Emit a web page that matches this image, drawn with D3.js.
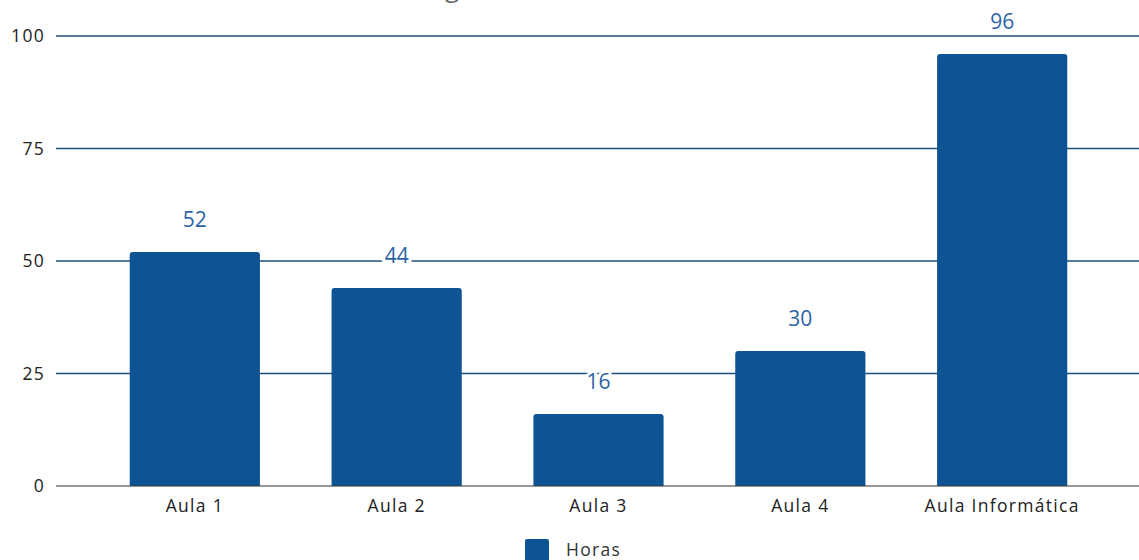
<!DOCTYPE html>
<html><head><meta charset="utf-8">
<script src="https://cdn.jsdelivr.net/npm/d3@7"></script>
<style>body{margin:0;background:#fff;overflow:hidden}</style>
</head><body><svg id="c" width="1139" height="560"></svg>
<script>
const categories = ["Aula 1", "Aula 2", "Aula 3", "Aula 4", "Aula Informática"];
const horas = [52, 44, 16, 30, 96];
const yTicks = [0, 25, 50, 75, 100];
const seriesName = "Horas";
const titleText = "Horas registradas en cada aula";

const svg = d3.select("#c");
const x = d3.scaleBand().domain(categories).range([94, 1103]).paddingInner(0.355).paddingOuter(0.177);
const y = d3.scaleLinear().domain([0, 100]).range([486, 36]);
const barColor = "#0e5394";
const axisFont = {family: "Open Sans", size: 17.5, spacing: 1.3};

// title (mostly cut off at top, as in the reference)
const t = svg.append("text").attr("y", -3).attr("font-family", "Open Sans").attr("font-size", 26)
  .attr("fill", "#666").text(titleText);
const gi = titleText.indexOf("g");
const gx = t.node().getStartPositionOfChar(gi).x;
t.attr("x", 445 - gx);

// gridlines
svg.append("g").selectAll("line").data(yTicks.filter(d => d > 0)).join("line")
  .attr("x1", 56).attr("x2", 1139).attr("y1", d => y(d)).attr("y2", d => y(d))
  .attr("stroke", "#1f4e79").attr("stroke-width", 1.5);

// y axis labels
const yAxis = d3.axisLeft(y).tickValues(yTicks).tickSize(0).tickPadding(11);
const ya = svg.append("g").attr("transform", "translate(56,0)").call(yAxis);
ya.select(".domain").remove();
ya.selectAll("text").attr("font-family", axisFont.family).attr("font-size", axisFont.size)
  .attr("letter-spacing", axisFont.spacing).attr("fill", "#222");

// bars with rounded top
svg.append("g").selectAll("path").data(horas).join("path")
  .attr("fill", barColor)
  .attr("d", (d, i) => {
    const x0 = x(categories[i]), w = x.bandwidth(), y0 = y(d), yb = y(0), r = 3;
    return `M${x0},${yb}V${y0 + r}Q${x0},${y0} ${x0 + r},${y0}H${x0 + w - r}Q${x0 + w},${y0} ${x0 + w},${y0 + r}V${yb}Z`;
  });

// zero axis line
svg.append("line").attr("x1", 56).attr("x2", 1139).attr("y1", y(0)).attr("y2", y(0))
  .attr("stroke", "#333").attr("stroke-width", 1.2);

// x axis labels
const xAxis = d3.axisBottom(x).tickSize(0).tickPadding(14);
const xa = svg.append("g").attr("transform", `translate(0,${y(0)})`).call(xAxis);
xa.select(".domain").remove();
xa.selectAll("text").attr("font-family", axisFont.family).attr("font-size", axisFont.size)
  .attr("letter-spacing", axisFont.spacing).attr("fill", "#222");

// value labels with white halo
const lbl = svg.append("g").selectAll("g").data(horas).join("g")
  .attr("transform", (d, i) => `translate(${x(categories[i]) + x.bandwidth() / 2},${y(d) - 25})`);
lbl.append("text").attr("text-anchor", "middle").attr("font-family", "Open Sans").attr("font-size", 21)
  .attr("stroke", "#fff").attr("stroke-width", 6).attr("fill", "#fff").text(d => d);
lbl.append("text").attr("text-anchor", "middle").attr("font-family", "Open Sans").attr("font-size", 21)
  .attr("fill", "#2b64a6").text(d => d);

// legend
const lg = svg.append("g").attr("transform", "translate(525,539)");
lg.append("rect").attr("width", 24).attr("height", 24).attr("rx", 2).attr("fill", barColor);
lg.append("text").attr("x", 41).attr("y", 17).attr("font-family", axisFont.family).attr("font-size", axisFont.size)
  .attr("letter-spacing", axisFont.spacing).attr("fill", "#333").text(seriesName);
</script></body></html>
